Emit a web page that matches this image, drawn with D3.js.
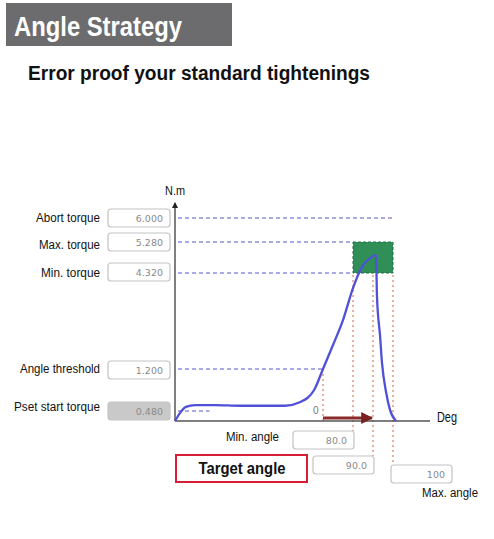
<!DOCTYPE html>
<html><head><meta charset="utf-8">
<script src="https://cdn.jsdelivr.net/npm/d3@7"></script>
<style>body{margin:0;background:#fff}svg{display:block}</style>
</head><body>
<svg id="c" width="494" height="539"></svg>
<script>
// ---- data ----
const title = "Angle Strategy";
const subtitle = "Error proof your standard tightenings";
const torqueLabels = ["Abort torque", "Max. torque", "Min. torque", "Angle threshold", "Pset start torque"];
const torqueValues = [6.0, 5.28, 4.32, 1.2, 0.48];
const torqueText = ["6.000", "5.280", "4.320", "1.200", "0.480"];
const angleLabels = ["Min. angle", "Target angle", "Max. angle"];
const angleValues = [80, 90, 100];
const angleText = ["80.0", "90.0", "100"];
// curve: angle (deg, 0 = angle threshold crossing), torque (N.m)
const curveAngle = [-300, -290, -278, -259, -219, -168, -118, -77, -47, -18, 0, 26.7, 53.3, 80, 84.5, 89.5, 91.5, 92, 93.5, 94.5, 96.5, 98.5, 101.5];
const curveTorque = [0, 0.38, 0.55, 0.58, 0.58, 0.57, 0.57, 0.57, 0.63, 0.84, 1.2, 1.98, 2.79, 3.83, 4.51, 4.82, 4.88, 3.54, 2.30, 1.40, 0.81, 0.50, 0];

const svg = d3.select("#c");
const font = "'Liberation Sans',Arial,sans-serif";

// condensed text helper (narrow face emulated by fitting to width)
function txt(tx, ty, t, size, width, opts){
  opts = opts || {};
  const el = svg.append("text").attr("x",tx).attr("y",ty).attr("font-family",font)
    .attr("font-size",size).attr("fill",opts.fill||"#111").attr("text-anchor",opts.anchor||"start")
    .attr("font-weight",opts.bold?"bold":"normal").text(t);
  if (width) el.attr("textLength",width).attr("lengthAdjust","spacingAndGlyphs");
  return el;
}

// header
svg.append("rect").attr("x",6).attr("y",3).attr("width",226).attr("height",43).attr("fill","#6c6c6e");
txt(14, 36, title, 28, 168, {fill:"#fff", bold:true});
txt(28, 80, subtitle, 19.5, 342, {bold:true});

// scales (illustrative, non-uniform)
const y = d3.scaleLinear().domain([0, 0.48, 1.2, 4.32, 5.28, 6]).range([421, 411, 369, 273, 242, 218]);
const x = d3.scaleLinear().domain([-300, 0, 80, 90, 100]).range([175, 323, 353, 373, 393]);
const x0 = x(-300), yTop = 203, xEnd = 430;

// green window
svg.append("rect").attr("x",x(angleValues[0])).attr("y",y(torqueValues[1]))
  .attr("width",x(angleValues[2])-x(angleValues[0])).attr("height",y(torqueValues[2])-y(torqueValues[1]))
  .attr("fill","#2f8f57").attr("stroke","#237045").attr("stroke-dasharray","3,2").attr("stroke-width",1);

// horizontal dashed torque lines
const dash = "#8f8fdc";
const hEnds = [x(100), x(80), x(80), x(0), x(-230)];
torqueValues.forEach((v,i)=>{
  svg.append("line").attr("x1",x0+3).attr("x2",hEnds[i]).attr("y1",y(v)).attr("y2",y(v))
    .attr("stroke",dash).attr("stroke-width",1.3).attr("stroke-dasharray","4,3");
});

// vertical dotted angle lines
const vc = "#dd8a6e";
svg.append("line").attr("x1",x(0)).attr("x2",x(0)).attr("y1",y(1.2)).attr("y2",y(0))
  .attr("stroke",vc).attr("stroke-width",1.3).attr("stroke-dasharray","2,3");
const vBottoms = [431, 456, 464];
angleValues.forEach((a,i)=>{
  svg.append("line").attr("x1",x(a)).attr("x2",x(a)).attr("y1",y(4.32)+2).attr("y2",vBottoms[i])
    .attr("stroke",vc).attr("stroke-width",1.3).attr("stroke-dasharray","2,3");
});

// axes
svg.append("line").attr("x1",x0).attr("x2",x0).attr("y1",yTop).attr("y2",y(0)).attr("stroke","#555").attr("stroke-width",1.5);
svg.append("path").attr("d",`M${x0-3},${yTop+5}L${x0},${yTop-1}L${x0+3},${yTop+5}Z`).attr("fill","#222");
svg.append("line").attr("x1",x0).attr("x2",xEnd).attr("y1",y(0)).attr("y2",y(0)).attr("stroke","#555").attr("stroke-width",1.5);
txt(x0, 195, "N.m", 12.5, 20, {anchor:"middle"});
txt(437, 422, "Deg", 14.5, 20);

// red arrow from 0 to target
svg.append("defs").append("marker").attr("id","ah").attr("viewBox","0 0 10 10").attr("refX",9).attr("refY",5)
  .attr("markerWidth",4).attr("markerHeight",4).attr("orient","auto")
  .append("path").attr("d","M0,0L10,5L0,10Z").attr("fill","#7a2020");
svg.append("line").attr("x1",x(0)).attr("x2",x(90)-1).attr("y1",y(0)-3).attr("y2",y(0)-3)
  .attr("stroke","#8a2a2a").attr("stroke-width",3).attr("marker-end","url(#ah)");
txt(x(0)-10, 414, "0", 10, null, {fill:"#777"});

// curve
const pts = curveAngle.map((a,i)=>[a, curveTorque[i]]);
svg.append("path").datum(pts)
  .attr("d", d3.line().x(d=>x(d[0])).y(d=>y(d[1])).curve(d3.curveMonotoneX))
  .attr("fill","none").attr("stroke","#5050d8").attr("stroke-width",2.3);

// input boxes helper
function box(bx, by, w, h, t, fill){
  svg.append("rect").attr("x",bx).attr("y",by).attr("width",w).attr("height",h).attr("rx",3)
    .attr("fill",fill||"#fff").attr("stroke","#c4c4c4").attr("stroke-width",1.2);
  svg.append("text").attr("x",bx+w-7).attr("y",by+h/2+3.5).attr("text-anchor","end")
    .attr("font-family","'DejaVu Sans',sans-serif").attr("font-size",9.5).attr("fill","#8a8a8a").text(t);
}

// torque labels/boxes
const boxTop = [209, 233, 263, 361, 402];
const labelY = [222, 249, 277, 373, 411];
const labelW = [64, 61, 59, 80, 86];
torqueValues.forEach((v,i)=>{
  txt(100, labelY[i], torqueLabels[i], 12, labelW[i], {anchor:"end"});
  box(108, boxTop[i], 62, 18, torqueText[i], i===4 ? "#c9c9c9" : "#fff");
});

// angle labels/boxes
txt(226, 441, angleLabels[0], 12, 53);
box(293, 431, 61, 18, angleText[0]);
svg.append("rect").attr("x",176).attr("y",455).attr("width",131).attr("height",27)
  .attr("fill","#fff").attr("stroke","#d81e34").attr("stroke-width",2);
txt(242, 474, angleLabels[1], 17, 87, {anchor:"middle", bold:true});
box(313, 456, 61, 18, angleText[1]);
box(391, 465, 61, 18, angleText[2]);
txt(422, 497, angleLabels[2], 12, 56);
</script>
</body></html>
